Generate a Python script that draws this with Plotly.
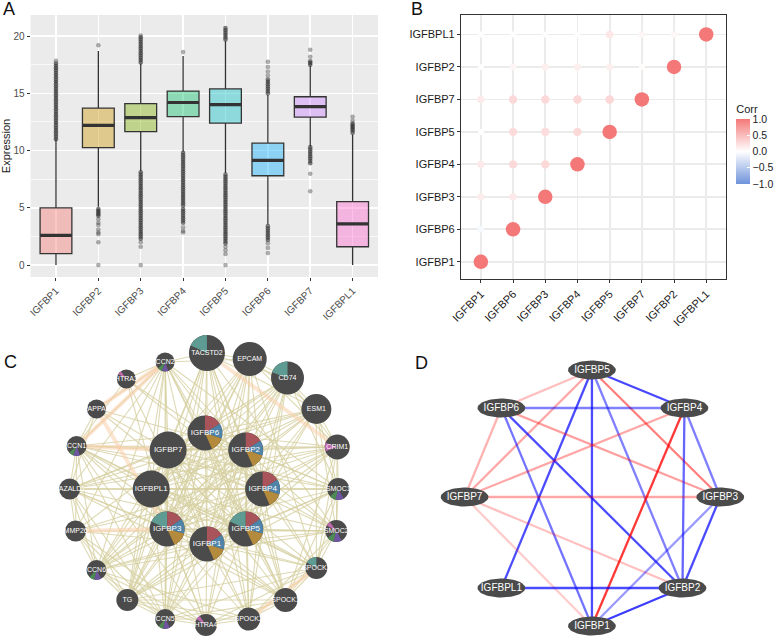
import numpy as np
import plotly.graph_objects as go

FIG_W, FIG_H = 777, 639
FONT = "Arial, Liberation Sans, sans-serif"

# ======================= Panel A data =======================
genes_A = ["IGFBP1", "IGFBP2", "IGFBP3", "IGFBP4", "IGFBP5", "IGFBP6", "IGFBP7", "IGFBPL1"]
q1_A = [1.0, 10.25, 11.65, 12.97, 12.4, 7.8, 12.92, 1.6]
median_A = [2.6, 12.2, 12.88, 14.2, 14.02, 9.15, 13.84, 3.6]
q3_A = [5.0, 13.7, 14.1, 15.2, 15.38, 10.65, 14.7, 5.54]
lowerfence_A = [0.0, 5.1, 8.2, 9.9, 8.05, 3.55, 10.35, 0.0]
upperfence_A = [11.0, 18.7, 17.6, 18.25, 19.6, 14.85, 17.4, 11.4]

# outliers: runs that look solid, and isolated points
dense_out_A = {
    "IGFBP1": [11.0, 11.2, 11.4, 11.6, 11.8, 12.0, 12.2, 12.4, 12.6, 12.8, 13.0, 13.2, 13.4, 13.6,
               13.8, 14.0, 14.2, 14.4, 14.6, 14.8, 15.0, 15.2, 15.4, 15.6, 15.8, 16.0, 16.2, 16.4,
               16.6, 16.8, 17.0, 17.2, 17.4, 17.6],
    "IGFBP2": [4.9, 4.75, 4.6, 4.45, 4.3],
    "IGFBP3": [17.7, 17.9, 18.1, 18.3, 18.5, 18.7, 18.9, 19.1, 19.3, 19.5, 19.7, 19.9,
               8.1, 7.9, 7.7, 7.5, 7.3, 7.1, 6.9, 6.7, 6.5, 6.3, 6.1, 5.9, 5.7, 5.5, 5.3, 5.1,
               4.9, 4.7, 4.5, 4.3, 4.1, 3.9, 3.7, 3.5, 3.3, 3.1, 2.9, 2.7, 2.5, 2.3],
    "IGFBP4": [9.8, 9.6, 9.4, 9.2, 9.0, 8.8, 8.6, 8.4, 8.2, 8.0, 7.8, 7.6, 7.4, 7.2, 7.0, 6.8,
               6.6, 6.4, 6.2, 6.0, 5.8, 5.6, 5.4, 5.2, 4.9, 4.7, 4.5, 4.3, 4.1, 3.9, 3.7],
    "IGFBP5": [19.7, 19.9, 20.1, 20.3, 20.5, 20.7,
               7.9, 7.7, 7.5, 7.3, 7.1, 6.9, 6.7, 6.5, 6.3, 6.1, 5.9, 5.7, 5.5, 5.3, 5.1, 4.9,
               4.7, 4.5, 4.3, 4.1, 3.9, 3.7, 3.5, 3.3, 3.1, 2.9, 2.7, 2.5, 2.3, 2.1, 1.9],
    "IGFBP6": [16.2, 16.0, 15.8, 15.6, 15.4, 15.2, 15.0,
               3.4, 3.2, 3.0, 2.8, 2.6, 2.4, 2.2],
    "IGFBP7": [17.8, 17.65, 17.5, 10.3, 10.1, 9.9, 9.7, 9.5, 9.3, 9.1, 8.9],
    "IGFBPL1": [12.35, 12.2, 12.05, 11.9, 11.75, 11.55],
}
sparse_out_A = {
    "IGFBP1": [17.85],
    "IGFBP2": [19.2, 4.0, 3.7, 3.5, 3.1, 2.85, 2.7, 2.0, 0.0],
    "IGFBP3": [20.05, 2.0, 1.6, 0.0],
    "IGFBP4": [18.6, 3.3, 3.0, 2.85],
    "IGFBP5": [1.6, 1.3, 0.97, 0.0],
    "IGFBP6": [17.75, 17.3, 16.9, 16.55, 1.9, 1.5, 1.05],
    "IGFBP7": [18.8, 18.2, 7.98, 6.45],
    "IGFBPL1": [12.95, 12.6],
}
hue_A = ["#F8766D", "#CD9600", "#7CAE00", "#00BE67", "#00BFC4", "#00A9FF", "#C77CFF", "#FF61CC"]

# ======================= Panel B data =======================
genes_B = ["IGFBP1", "IGFBP6", "IGFBP3", "IGFBP4", "IGFBP5", "IGFBP7", "IGFBP2", "IGFBPL1"]
corr_B = [
    [1.00],
    [-0.06, 1.00],
    [0.14, 0.16, 1.00],
    [0.16, 0.28, 0.28, 1.00],
    [0.01, 0.27, 0.25, 0.28, 1.00],
    [0.15, 0.28, 0.28, 0.30, 0.30, 1.00],
    [0.01, 0.07, 0.12, 0.12, 0.12, 0.02, 1.00],
    [0.01, 0.00, 0.02, 0.01, 0.18, 0.07, 0.06, 1.00],
]

# ======================= Panel C data (GeneMANIA network) =======================
nodes_C = ["TACSTD2", "EPCAM", "CD74", "ESM1", "CRIM1", "SMOC1", "SMOC2", "SPOCK3", "SPOCK1",
           "SPOCK2", "HTRA4", "CCN5", "TG", "CCN6", "MMP26", "KAZALD1", "CCN1", "PAPPA2",
           "HTRA3", "CCN2", "IGFBP6", "IGFBP7", "IGFBP2", "IGFBPL1", "IGFBP4", "IGFBP3",
           "IGFBP5", "IGFBP1"]
# network layout coordinates (panel pixel units) and node radius
layout_x_C = [208, 251, 289, 318, 339, 340, 338, 318, 287, 250, 207, 166, 128, 97, 76, 70, 77, 97,
              127, 166, 206, 169, 247, 152, 264, 168, 247, 208]
layout_y_C = [353, 359, 378, 409, 447, 489, 531, 568, 600, 619, 625, 619, 600, 570, 531, 489, 446,
              409, 379, 362, 433, 450, 450, 489, 489, 529, 529, 544]
radius_C = [18, 17, 16.5, 15, 12.5, 11, 11, 11, 12, 11.5, 11, 10, 11, 10, 10.5, 10.5, 10, 9.5,
            9.5, 9.5, 17.5, 18.5, 17.5, 18.5, 17.5, 17.5, 17.5, 17.5]
edges_C = {
    "IGFBP1": "IGFBP2 IGFBP3 IGFBP4 IGFBP5 IGFBP6 IGFBP7 IGFBPL1 TACSTD2 EPCAM CD74 ESM1 CRIM1 SMOC1 SMOC2 SPOCK3 SPOCK1 SPOCK2 HTRA4 CCN5 TG CCN6 MMP26 KAZALD1 CCN1 HTRA3 CCN2",
    "IGFBP2": "IGFBP3 IGFBP4 IGFBP5 IGFBP6 IGFBP7 IGFBPL1 TACSTD2 EPCAM CD74 ESM1 CRIM1 SMOC1 SMOC2 SPOCK3 SPOCK1 SPOCK2 HTRA4 CCN5 TG CCN6 KAZALD1 CCN1 PAPPA2 CCN2",
    "IGFBP3": "IGFBP4 IGFBP5 IGFBP6 IGFBP7 IGFBPL1 TACSTD2 EPCAM CD74 ESM1 CRIM1 SMOC1 SMOC2 SPOCK3 SPOCK1 SPOCK2 HTRA4 CCN5 TG CCN6 KAZALD1 CCN1 HTRA3 CCN2",
    "IGFBP4": "IGFBP5 IGFBP6 IGFBP7 IGFBPL1 TACSTD2 EPCAM CD74 ESM1 CRIM1 SMOC1 SMOC2 SPOCK3 SPOCK1 SPOCK2 CCN5 TG CCN6 MMP26 KAZALD1 CCN1 HTRA3 CCN2",
    "IGFBP5": "IGFBP6 IGFBP7 IGFBPL1 TACSTD2 EPCAM CD74 ESM1 CRIM1 SMOC1 SMOC2 SPOCK3 SPOCK1 SPOCK2 HTRA4 CCN5 TG CCN6 KAZALD1 CCN1 PAPPA2 CCN2",
    "IGFBP6": "IGFBP7 IGFBPL1 TACSTD2 EPCAM CD74 ESM1 CRIM1 SMOC1 SMOC2 SPOCK1 SPOCK2 CCN5 TG CCN6 MMP26 KAZALD1 CCN1 HTRA3 CCN2",
    "IGFBP7": "IGFBPL1 TACSTD2 EPCAM CD74 ESM1 CRIM1 SMOC1 SMOC2 SPOCK3 SPOCK1 SPOCK2 HTRA4 CCN5 TG CCN6 KAZALD1 CCN1 PAPPA2 CCN2",
    "IGFBPL1": "TACSTD2 EPCAM CD74 ESM1 CRIM1 SMOC1 SMOC2 SPOCK3 SPOCK1 HTRA4 CCN5 TG CCN6 KAZALD1 CCN1 CCN2",
    "CCN2": "CCN1 PAPPA2 HTRA3 KAZALD1 CCN6 MMP26 TACSTD2 EPCAM SPOCK1 SMOC1 TG CCN5",
    "TACSTD2": "EPCAM CD74 ESM1 TG CCN5 SPOCK2 SMOC2 SPOCK1",
    "EPCAM": "CD74 ESM1 CRIM1 CCN5 TG SPOCK3 HTRA4",
    "CD74": "ESM1 CRIM1 SMOC1 SPOCK2 TG CCN6",
    "ESM1": "CRIM1 SMOC1 SMOC2 SPOCK3 CCN6 KAZALD1",
    "CRIM1": "SMOC1 SMOC2 SPOCK3 SPOCK1 KAZALD1 CCN1 MMP26",
    "SMOC1": "SMOC2 SPOCK3 SPOCK1 KAZALD1 CCN1 TG",
    "SMOC2": "SPOCK3 SPOCK1 SPOCK2 CCN6 MMP26",
    "SPOCK3": "SPOCK1 SPOCK2 HTRA4 CCN5 TG CCN1",
    "SPOCK1": "SPOCK2 HTRA4 CCN5 TG KAZALD1",
    "SPOCK2": "HTRA4 CCN5 TG CCN6",
    "HTRA4": "CCN5 TG CCN6 MMP26 CCN1",
    "CCN5": "TG CCN6 MMP26 KAZALD1 CCN1",
    "TG": "CCN6 MMP26 KAZALD1",
    "CCN6": "MMP26 KAZALD1 CCN1",
    "MMP26": "KAZALD1 CCN1",
    "KAZALD1": "CCN1 PAPPA2",
    "CCN1": "PAPPA2 HTRA3",
}
strong_edges_C = [("PAPPA2", "IGFBP3"), ("MMP26", "IGFBP3"), ("CCN1", "IGFBP7"),
                  ("SPOCK2", "SPOCK3"), ("TACSTD2", "CRIM1"), ("CCN2", "CCN1"), ("CCN2", "PAPPA2")]
# pie slices: (category, start angle, end angle) clockwise from 12 o'clock
pies_C = {
    "IGFBP6": [("red", 0, 58), ("blue", 58, 108), ("gold", 108, 156)],
    "IGFBP2": [("red", 0, 58), ("blue", 58, 108), ("gold", 108, 156)],
    "IGFBP4": [("red", 0, 58), ("blue", 58, 108), ("gold", 108, 156)],
    "IGFBP1": [("red", 0, 58), ("blue", 58, 108), ("gold", 108, 156)],
    "IGFBP3": [("teal", 295, 360), ("red", 0, 55), ("blue", 55, 105), ("gold", 105, 155)],
    "IGFBP5": [("teal", 295, 360), ("red", 0, 55), ("blue", 55, 105), ("gold", 105, 155)],
    "TACSTD2": [("teal", 295, 360)],
    "CD74": [("teal", 290, 360)],
    "SPOCK3": [("teal", 300, 360)],
    "CCN2": [("purple", 160, 200), ("green", 200, 228)],
    "CCN1": [("purple", 160, 200), ("green", 200, 228)],
    "SMOC1": [("purple", 150, 195), ("green", 195, 228)],
    "SMOC2": [("purple", 150, 195), ("green", 195, 230), ("pink", 300, 325)],
    "CCN6": [("purple", 150, 192), ("green", 192, 225)],
    "CCN5": [("purple", 150, 192), ("green", 192, 222)],
    "CRIM1": [("pink", 250, 290)],
    "HTRA3": [("pink", 300, 325)],
    "HTRA4": [("pink", 300, 325)],
}
slice_colors = {"red": "#A8545A", "blue": "#4F83A8", "gold": "#B48A3C", "teal": "#5E9B93",
                "green": "#4E8A55", "purple": "#6E55A0", "pink": "#C06AAE"}

# ======================= Panel D data (correlation network) =======================
nodes_D = ["IGFBP5", "IGFBP6", "IGFBP4", "IGFBP7", "IGFBP3", "IGFBPL1", "IGFBP2", "IGFBP1"]
layout_x_D = [595, 504, 688, 467, 724, 504, 686, 595]
layout_y_D = [370, 408, 408, 497, 497, 588, 588, 626]
edges_D = [
    ("IGFBP5", "IGFBP6", 0.25), ("IGFBP5", "IGFBP7", 0.35), ("IGFBP5", "IGFBP4", -0.72),
    ("IGFBP5", "IGFBPL1", -0.7), ("IGFBP5", "IGFBP1", -0.7), ("IGFBP5", "IGFBP2", -0.5),
    ("IGFBP5", "IGFBP3", 0.5), ("IGFBP6", "IGFBP4", -0.5), ("IGFBP6", "IGFBP7", 0.3),
    ("IGFBP6", "IGFBP3", 0.38), ("IGFBP6", "IGFBP2", -0.7), ("IGFBP6", "IGFBP1", -0.55),
    ("IGFBP4", "IGFBP7", 0.35), ("IGFBP4", "IGFBP1", 0.78), ("IGFBP4", "IGFBP2", -0.6),
    ("IGFBP4", "IGFBP3", -0.5), ("IGFBP7", "IGFBP3", 0.35), ("IGFBP7", "IGFBP2", 0.25),
    ("IGFBP7", "IGFBP1", 0.2), ("IGFBP3", "IGFBP2", -0.7), ("IGFBP3", "IGFBP1", -0.4),
    ("IGFBPL1", "IGFBP2", -0.7), ("IGFBP2", "IGFBP1", -0.76),
]

# ======================= layout helpers (page pixel -> paper fraction) =======================
def fx(p):
    return p / FIG_W

def fy(p):
    return 1 - p / FIG_H

dom_A = ([fx(30.7), fx(380)], [fy(277), fy(15)])
dom_B = ([fx(463.3), fx(729.3)], [fy(279.3), fy(15)])
C_X, C_Y = (0, 400), (320, 639)
D_X, D_Y = (420, 777), (320, 639)
dom_C = ([fx(C_X[0]), fx(C_X[1])], [fy(C_Y[1]), fy(C_Y[0])])
dom_D = ([fx(D_X[0]), fx(D_X[1])], [fy(D_Y[1]), fy(D_Y[0])])

fig = go.Figure()

# ---------------- Panel A traces ----------------
BOXW = 0.75
for i, g in enumerate(genes_A):
    r, gg, b = int(hue_A[i][1:3], 16), int(hue_A[i][3:5], 16), int(hue_A[i][5:7], 16)
    fig.add_trace(go.Box(
        x=[i], q1=[q1_A[i]], median=[median_A[i]], q3=[q3_A[i]],
        lowerfence=[lowerfence_A[i]], upperfence=[upperfence_A[i]],
        width=BOXW, whiskerwidth=0, boxpoints=False,
        fillcolor=f"rgba({r},{gg},{b},0.4)", line=dict(color="#333333", width=1.3),
        xaxis="x", yaxis="y", showlegend=False, hoverinfo="skip"))

med_x, med_y = [], []
for i, m in enumerate(median_A):
    med_x += [i - BOXW / 2, i + BOXW / 2, None]
    med_y += [m, m, None]
fig.add_trace(go.Scatter(x=med_x, y=med_y, mode="lines", line=dict(color="#333333", width=3.2),
                         xaxis="x", yaxis="y", showlegend=False, hoverinfo="skip"))

for outs, alpha in ((sparse_out_A, 0.38), (dense_out_A, 0.6)):
    ox, oy = [], []
    for i, g in enumerate(genes_A):
        ox += [i] * len(outs[g])
        oy += outs[g]
    fig.add_trace(go.Scatter(x=ox, y=oy, mode="markers",
                             marker=dict(size=4.6, color=f"rgba(45,45,45,{alpha})", line=dict(width=0)),
                             xaxis="x", yaxis="y", showlegend=False, hoverinfo="skip"))

# ---------------- Panel B traces ----------------
bx, by, bc = [], [], []
for i, row in enumerate(corr_B):
    for j, v in enumerate(row):
        bx.append(j)
        by.append(i)
        bc.append(v)
fig.add_trace(go.Scatter(
    x=bx, y=by, mode="markers", xaxis="x2", yaxis="y2", showlegend=False, hoverinfo="skip",
    marker=dict(size=[6 + 8.5 * abs(v) for v in bc], color=bc, cmin=-1, cmax=1, opacity=1,
                colorscale=[[0, "#6F93DB"], [0.5, "#FFFFFF"], [1, "#F47878"]],
                line=dict(width=0),
                colorbar=dict(x=fx(740), xanchor="left", y=fy(143), yanchor="middle",
                              len=82, lenmode="pixels", thickness=14, thicknessmode="pixels",
                              xpad=0, ypad=0, outlinewidth=0,
                              title=dict(text="Corr", side="top", font=dict(size=11, color="#1A1A1A")),
                              tickvals=[-1, -0.5, 0, 0.5, 1],
                              ticktext=["\u22121.0", "\u22120.5", "0.0", "0.5", "1.0"],
                              ticks="inside", ticklen=3, tickcolor="white",
                              tickfont=dict(size=10.5, color="#1A1A1A")))))

# ---------------- Panel C traces ----------------
pos_C = {n: (layout_x_C[k], layout_y_C[k], radius_C[k]) for k, n in enumerate(nodes_C)}
ex, ey = [], []
for a, targets in edges_C.items():
    for b in targets.split():
        ex += [pos_C[a][0], pos_C[b][0], None]
        ey += [pos_C[a][1], pos_C[b][1], None]
fig.add_trace(go.Scatter(x=ex, y=ey, mode="lines", line=dict(color="rgba(214,208,160,0.8)", width=1.1),
                         xaxis="x3", yaxis="y3", showlegend=False, hoverinfo="skip"))
sx, sy = [], []
for a, b in strong_edges_C:
    sx += [pos_C[a][0], pos_C[b][0], None]
    sy += [pos_C[a][1], pos_C[b][1], None]
fig.add_trace(go.Scatter(x=sx, y=sy, mode="lines", line=dict(color="rgba(250,208,172,0.55)", width=4),
                         xaxis="x3", yaxis="y3", showlegend=False, hoverinfo="skip"))

fig.add_trace(go.Scatter(x=layout_x_C, y=layout_y_C, mode="markers",
                         marker=dict(size=[2 * r for r in radius_C], color="#4B4B4B", opacity=1,
                                     line=dict(width=0)),
                         xaxis="x3", yaxis="y3", showlegend=False, hoverinfo="skip"))

for n, slices in pies_C.items():
    cx, cy, r = pos_C[n]
    for cat, a0, a1 in slices:
        th = np.radians(np.linspace(a0, a1, 24))
        px_ = [cx] + list(cx + r * np.sin(th)) + [cx]
        py_ = [cy] + list(cy - r * np.cos(th)) + [cy]
        fig.add_trace(go.Scatter(x=px_, y=py_, mode="lines", fill="toself",
                                 fillcolor=slice_colors[cat], line=dict(width=0, color=slice_colors[cat]),
                                 xaxis="x3", yaxis="y3", showlegend=False, hoverinfo="skip"))

inner = [n.startswith("IGFBP") for n in nodes_C]
fig.add_trace(go.Scatter(x=[layout_x_C[k] for k in range(len(nodes_C)) if not inner[k]],
                         y=[layout_y_C[k] for k in range(len(nodes_C)) if not inner[k]],
                         text=[nodes_C[k] for k in range(len(nodes_C)) if not inner[k]],
                         mode="text", textfont=dict(size=7, color="white", family=FONT),
                         xaxis="x3", yaxis="y3", showlegend=False, hoverinfo="skip"))
fig.add_trace(go.Scatter(x=[layout_x_C[k] for k in range(len(nodes_C)) if inner[k]],
                         y=[layout_y_C[k] for k in range(len(nodes_C)) if inner[k]],
                         text=[nodes_C[k] for k in range(len(nodes_C)) if inner[k]],
                         mode="text", textfont=dict(size=8, color="white", family=FONT),
                         xaxis="x3", yaxis="y3", showlegend=False, hoverinfo="skip"))

# ---------------- Panel D traces ----------------
pos_D = {n: (layout_x_D[k], layout_y_D[k]) for k, n in enumerate(nodes_D)}
for a, b, w in edges_D:
    col = f"rgba(255,0,0,{abs(w)})" if w > 0 else f"rgba(0,0,255,{abs(w)})"
    fig.add_trace(go.Scatter(x=[pos_D[a][0], pos_D[b][0]], y=[pos_D[a][1], pos_D[b][1]],
                             mode="lines", line=dict(color=col, width=2.3),
                             xaxis="x4", yaxis="y4", showlegend=False, hoverinfo="skip"))
th = np.linspace(0, 2 * np.pi, 60)
for n in nodes_D:
    cx, cy = pos_D[n]
    fig.add_trace(go.Scatter(x=cx + 24 * np.cos(th), y=cy + 9.5 * np.sin(th), mode="lines",
                             fill="toself", fillcolor="#4B4B4B", line=dict(width=0, color="#4B4B4B"),
                             xaxis="x4", yaxis="y4", showlegend=False, hoverinfo="skip"))
fig.add_trace(go.Scatter(x=layout_x_D, y=layout_y_D, text=nodes_D, mode="text",
                         textfont=dict(size=10, color="white", family=FONT),
                         xaxis="x4", yaxis="y4", showlegend=False, hoverinfo="skip"))

# ======================= layout =======================
tickA = dict(size=10, color="#4D4D4D", family=FONT)
tickB = dict(size=11, color="#1A1A1A", family=FONT)
hidden = dict(visible=False, showgrid=False, zeroline=False, automargin=False)

fig.update_layout(
    width=FIG_W, height=FIG_H, margin=dict(l=0, r=0, t=0, b=0),
    paper_bgcolor="white", plot_bgcolor="rgba(0,0,0,0)",
    font=dict(family=FONT), boxmode="overlay", showlegend=False,
    xaxis=dict(domain=dom_A[0], range=[-0.6, 7.6], tickvals=list(range(len(genes_A))), ticktext=genes_A,
               tickangle=-45, ticks="outside", ticklen=3, tickcolor="#333333", tickwidth=1,
               tickfont=tickA, showgrid=True, gridcolor="white", gridwidth=1.5, zeroline=False,
               showline=False, automargin=False, anchor="y"),
    yaxis=dict(domain=dom_A[1], range=[-1.04, 21.84], tickvals=[0, 5, 10, 15, 20],
               ticks="outside", ticklen=3, tickcolor="#333333", tickwidth=1, tickfont=tickA,
               showgrid=True, gridcolor="white", gridwidth=1.5, zeroline=False, showline=False,
               minor=dict(tickvals=[2.5, 7.5, 12.5, 17.5], showgrid=True, gridcolor="white",
                          gridwidth=0.7, ticks=""),
               title=dict(text="Expression", font=dict(size=11, color="#1A1A1A"), standoff=4),
               automargin=False, anchor="x"),
    xaxis2=dict(domain=dom_B[0], range=[-0.62, 7.6], tickvals=list(range(len(genes_B))), ticktext=genes_B,
                tickangle=-45, ticks="outside", ticklen=3, tickcolor="#333333", tickfont=tickB,
                showgrid=True, gridcolor="#EBEBEB", gridwidth=1.8, zeroline=False,
                showline=True, mirror=True, linecolor="#333333", linewidth=1,
                automargin=False, anchor="y2"),
    yaxis2=dict(domain=dom_B[1], range=[-0.54, 7.6], tickvals=list(range(len(genes_B))), ticktext=genes_B,
                ticks="outside", ticklen=3, tickcolor="#333333", tickfont=tickB,
                showgrid=True, gridcolor="#EBEBEB", gridwidth=1.8, zeroline=False,
                showline=True, mirror=True, linecolor="#333333", linewidth=1,
                automargin=False, anchor="x2"),
    xaxis3=dict(domain=dom_C[0], range=list(C_X), anchor="y3", **hidden),
    yaxis3=dict(domain=dom_C[1], range=[C_Y[1], C_Y[0]], anchor="x3", **hidden),
    xaxis4=dict(domain=dom_D[0], range=list(D_X), anchor="y4", **hidden),
    yaxis4=dict(domain=dom_D[1], range=[D_Y[1], D_Y[0]], anchor="x4", **hidden),
    shapes=[dict(type="rect", xref="paper", yref="paper", x0=dom_A[0][0], x1=dom_A[0][1],
                 y0=dom_A[1][0], y1=dom_A[1][1], fillcolor="#EBEBEB", line=dict(width=0), layer="below")],
    annotations=[
        dict(text=t, x=fx(px), y=fy(py), xref="paper", yref="paper", showarrow=False,
             xanchor="center", yanchor="middle", font=dict(size=18, color="#111111", family=FONT))
        for t, px, py in (("A", 9, 9), ("B", 419, 9), ("C", 11, 362), ("D", 424, 363))
    ],
)

# remove the page's default body margin so the 777x639 figure fills the window exactly
fig.write_html("out.html", config={"displayModeBar": False, "staticPlot": True},
               post_script="document.body.style.margin='0';document.body.style.padding='0';")
